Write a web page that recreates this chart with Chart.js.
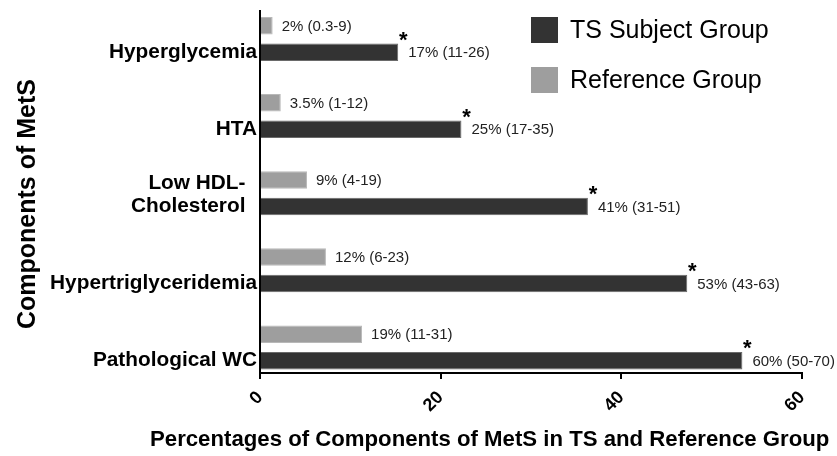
<!DOCTYPE html>
<html>
<head>
<meta charset="utf-8">
<script src="https://cdn.jsdelivr.net/npm/chart.js@4.4.1/dist/chart.umd.min.js"></script>
<style>
  body { margin: 0; background: #fff; }
</style>
</head>
<body>
<canvas id="myChart" width="837" height="456"></canvas>
<script>
// values (bar lengths in %)
const categories = ['Hyperglycemia', 'HTA', ['Low HDL-', 'Cholesterol'], 'Hypertriglyceridemia', 'Pathological WC'];
const seriesNames = ['Reference Group', 'TS Subject Group'];
const refValues = [1.4, 2.3, 5.2, 7.3, 11.3];
const tsValues = [15.3, 22.3, 36.3, 47.3, 53.4];
const refLabels = ['2% (0.3-9)', '3.5% (1-12)', '9% (4-19)', '12% (6-23)', '19% (11-31)'];
const tsLabels = ['17% (11-26)', '25% (17-35)', '41% (31-51)', '53% (43-63)', '60% (50-70)'];
const tsMarks = ['*', '*', '*', '*', '*'];
const xTicks = [0, 20, 40, 60];
const xTitle = 'Percentages of Components of MetS in TS and Reference Group';
const yTitle = 'Components of MetS';

const FONT = "'Liberation Sans', Arial, sans-serif";
const refColor = '#9e9e9e';
const tsColor = '#333333';
Chart.defaults.font.family = FONT;
Chart.defaults.color = '#000';

const extras = {
    id: 'extras',
    afterDatasetsDraw(chart) {
        const ctx = chart.ctx;
        ctx.save();
        // value labels next to the bars
        ctx.fillStyle = '#222';
        ctx.font = '15px ' + FONT;
        ctx.textAlign = 'left';
        ctx.textBaseline = 'middle';
        chart.getDatasetMeta(0).data.forEach((bar, i) => {
            ctx.fillText(refLabels[i], bar.x + 9, bar.y + 1);
        });
        chart.getDatasetMeta(1).data.forEach((bar, i) => {
            ctx.fillText(tsLabels[i], bar.x + 10, bar.y + 1);
        });
        // significance stars
        ctx.fillStyle = '#000';
        ctx.font = 'bold 22px ' + FONT;
        ctx.textAlign = 'center';
        ctx.textBaseline = 'alphabetic';
        chart.getDatasetMeta(1).data.forEach((bar, i) => {
            const top = bar.y - bar.height / 2;
            ctx.fillText(tsMarks[i], bar.x + 5, top + 3.3);
        });
        ctx.restore();
    },
    afterDraw(chart) {
        const ctx = chart.ctx;
        ctx.save();
        // legend
        const items = [
            {name: seriesNames[1], color: tsColor, y: 17},
            {name: seriesNames[0], color: refColor, y: 67}
        ];
        ctx.font = '25px ' + FONT;
        ctx.textAlign = 'left';
        ctx.textBaseline = 'alphabetic';
        items.forEach(it => {
            ctx.fillStyle = it.color;
            ctx.fillRect(531, it.y, 27, 26);
            ctx.fillStyle = '#000';
            ctx.fillText(it.name, 570, it.y + 21);
        });
        // axis titles
        ctx.font = 'bold 22.2px ' + FONT;
        ctx.fillText(xTitle, 150, 446);
        ctx.translate(35, 204);
        ctx.rotate(-Math.PI / 2);
        ctx.font = 'bold 25px ' + FONT;
        ctx.textAlign = 'center';
        ctx.fillText(yTitle, 0, 0);
        ctx.restore();
    }
};

const data = {
    datasets: [{
        label: seriesNames[0],
        data: refValues.map((v, i) => ({x: v, y: i})),
        backgroundColor: refColor,
        borderColor: '#b8b8b8',
        borderWidth: 1
    }, {
        label: seriesNames[1],
        data: tsValues.map((v, i) => ({x: v, y: i})),
        backgroundColor: tsColor,
        borderColor: '#6a6a6a',
        borderWidth: 1
    }]
};

const config = {
    type: 'bar',
    data: data,
    options: {
        indexAxis: 'y',
        responsive: false,
        animation: false,
        categoryPercentage: 0.687,
        barPercentage: 0.66,
        layout: { padding: { top: 11, right: 35, bottom: 0, left: 0 } },
        plugins: {
            legend: { display: false },
            tooltip: { enabled: false }
        },
        scales: {
            y: {
                type: 'linear',
                reverse: true,
                offset: false,
                min: -0.363,
                max: 4.332,
                afterFit(scale) {
                    scale.width = 260;
                    scale.paddingTop = 0;
                    scale.paddingBottom = 0;
                },
                afterBuildTicks(scale) { scale.ticks = categories.map((c, i) => ({value: i})); },
                grid: { display: false, drawTicks: false, offset: false },
                border: { display: true, color: '#000', width: 2 },
                ticks: {
                    autoSkip: false,
                    padding: 3,
                    labelOffset: 13,
                    color: '#000',
                    font: { size: 20.8, weight: 'bold', lineHeight: 1.1 },
                    callback: (v) => {
                        const c = categories[v];
                        // two-line label: pad so it sits like the original
                        return Array.isArray(c) ? c.map(s => s + '  ').concat(['']) : c;
                    }
                }
            },
            x: {
                min: 0,
                max: 60,
                afterFit(scale) { scale.height = 83; },
                afterBuildTicks(scale) { scale.ticks = xTicks.map(v => ({value: v})); },
                grid: { display: true, drawOnChartArea: false, drawTicks: true, tickLength: 6, color: '#000', lineWidth: 2 },
                border: { display: true, color: '#000', width: 2 },
                ticks: {
                    minRotation: 45,
                    maxRotation: 45,
                    padding: 8,
                    color: '#000',
                    font: { size: 18, weight: 'bold' }
                }
            }
        }
    },
    plugins: [extras]
};

const chart = new Chart(document.getElementById('myChart'), config);
</script>
</body>
</html>
